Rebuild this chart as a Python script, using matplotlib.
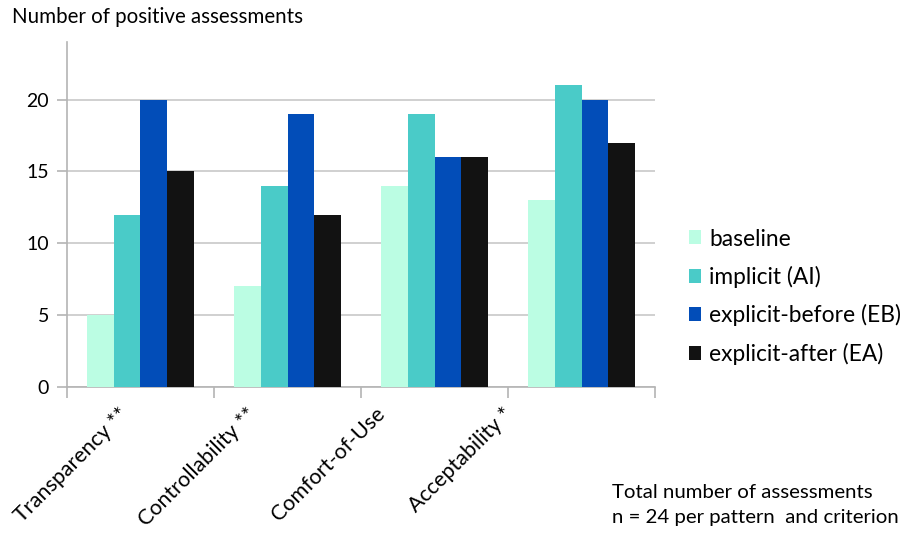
import numpy as np
import matplotlib
matplotlib.use("Agg")
import matplotlib.pyplot as plt
import matplotlib.transforms as mtransforms
from matplotlib.patches import Patch

# Data
criteria = ["Transparency **", "Controllability **", "Comfort-of-Use", "Acceptability *"]
series_names = ["baseline", "implicit (AI)", "explicit-before (EB)", "explicit-after (EA)"]
baseline = [5, 7, 14, 13]
implicit = [12, 14, 19, 21]
explicit_before = [20, 19, 16, 20]
explicit_after = [15, 12, 16, 17]
colors = ["#bbfde3", "#4acbc8", "#024db8", "#121212"]

plt.rcParams['font.family'] = ['Lato', 'DejaVu Sans']

fig = plt.figure(figsize=(9.04, 5.38), dpi=100)
ax = fig.add_axes([0.0741, 0.2807, 0.6505, 0.6412])

x = np.arange(len(criteria))
width = 0.182
all_series = [baseline, implicit, explicit_before, explicit_after]
for i, (vals, c) in enumerate(zip(all_series, colors)):
    offset = (i - 1.5) * width
    ax.bar(x + offset, vals, width, color=c, zorder=3)

ax.set_xlim(-0.5, len(criteria) - 0.5)
ax.set_ylim(0, 24)
ax.set_yticks([0, 5, 10, 15, 20])
ax.grid(axis='y', color='#c8c8c8', linewidth=1.2, zorder=0)

grey = '#b4b4b4'
for side in ['top', 'right']:
    ax.spines[side].set_visible(False)
for side in ['left', 'bottom']:
    ax.spines[side].set_color(grey)
    ax.spines[side].set_linewidth(1.2)

# category boundary ticks on x, labels placed separately
ax.set_xticks(np.arange(-0.5, len(criteria)))
ax.set_xticklabels([])
ax.tick_params(axis='x', length=8, color=grey, width=1.2)
ax.tick_params(axis='y', length=7, color=grey, width=1.2, labelsize=14, pad=6)

# the labels in the original sit a little tighter than the categories
label_pos = 0.06 + 0.871 * x
shift = mtransforms.ScaledTranslation(-24 / 100, -24 / 100, fig.dpi_scale_trans)
for xi, name in zip(label_pos, criteria):
    ax.text(xi, 0, name, rotation=45, ha='right', va='center',
            rotation_mode='anchor', fontsize=15.5,
            transform=ax.get_xaxis_transform() + shift)

fig.text(12 / 904, 1 - 17 / 538, "Number of positive assessments",
         fontsize=14.8, ha='left', va='center')

handles = [Patch(facecolor=c, edgecolor='none') for c in colors]
fig.legend(handles, series_names, loc='upper left',
           bbox_to_anchor=(668 / 904, 1 - 208 / 538), frameon=False,
           fontsize=16.4, handlelength=0.57, handleheight=0.57,
           handletextpad=0.35, labelspacing=0.72)

fig.text(612 / 904, 1 - 492 / 538, "Total number of assessments",
         fontsize=14.7, ha='left', va='center')
fig.text(612 / 904, 1 - 517 / 538, "n = 24 per pattern  and criterion",
         fontsize=14.7, ha='left', va='center')

fig.savefig("out.png", dpi=100)
